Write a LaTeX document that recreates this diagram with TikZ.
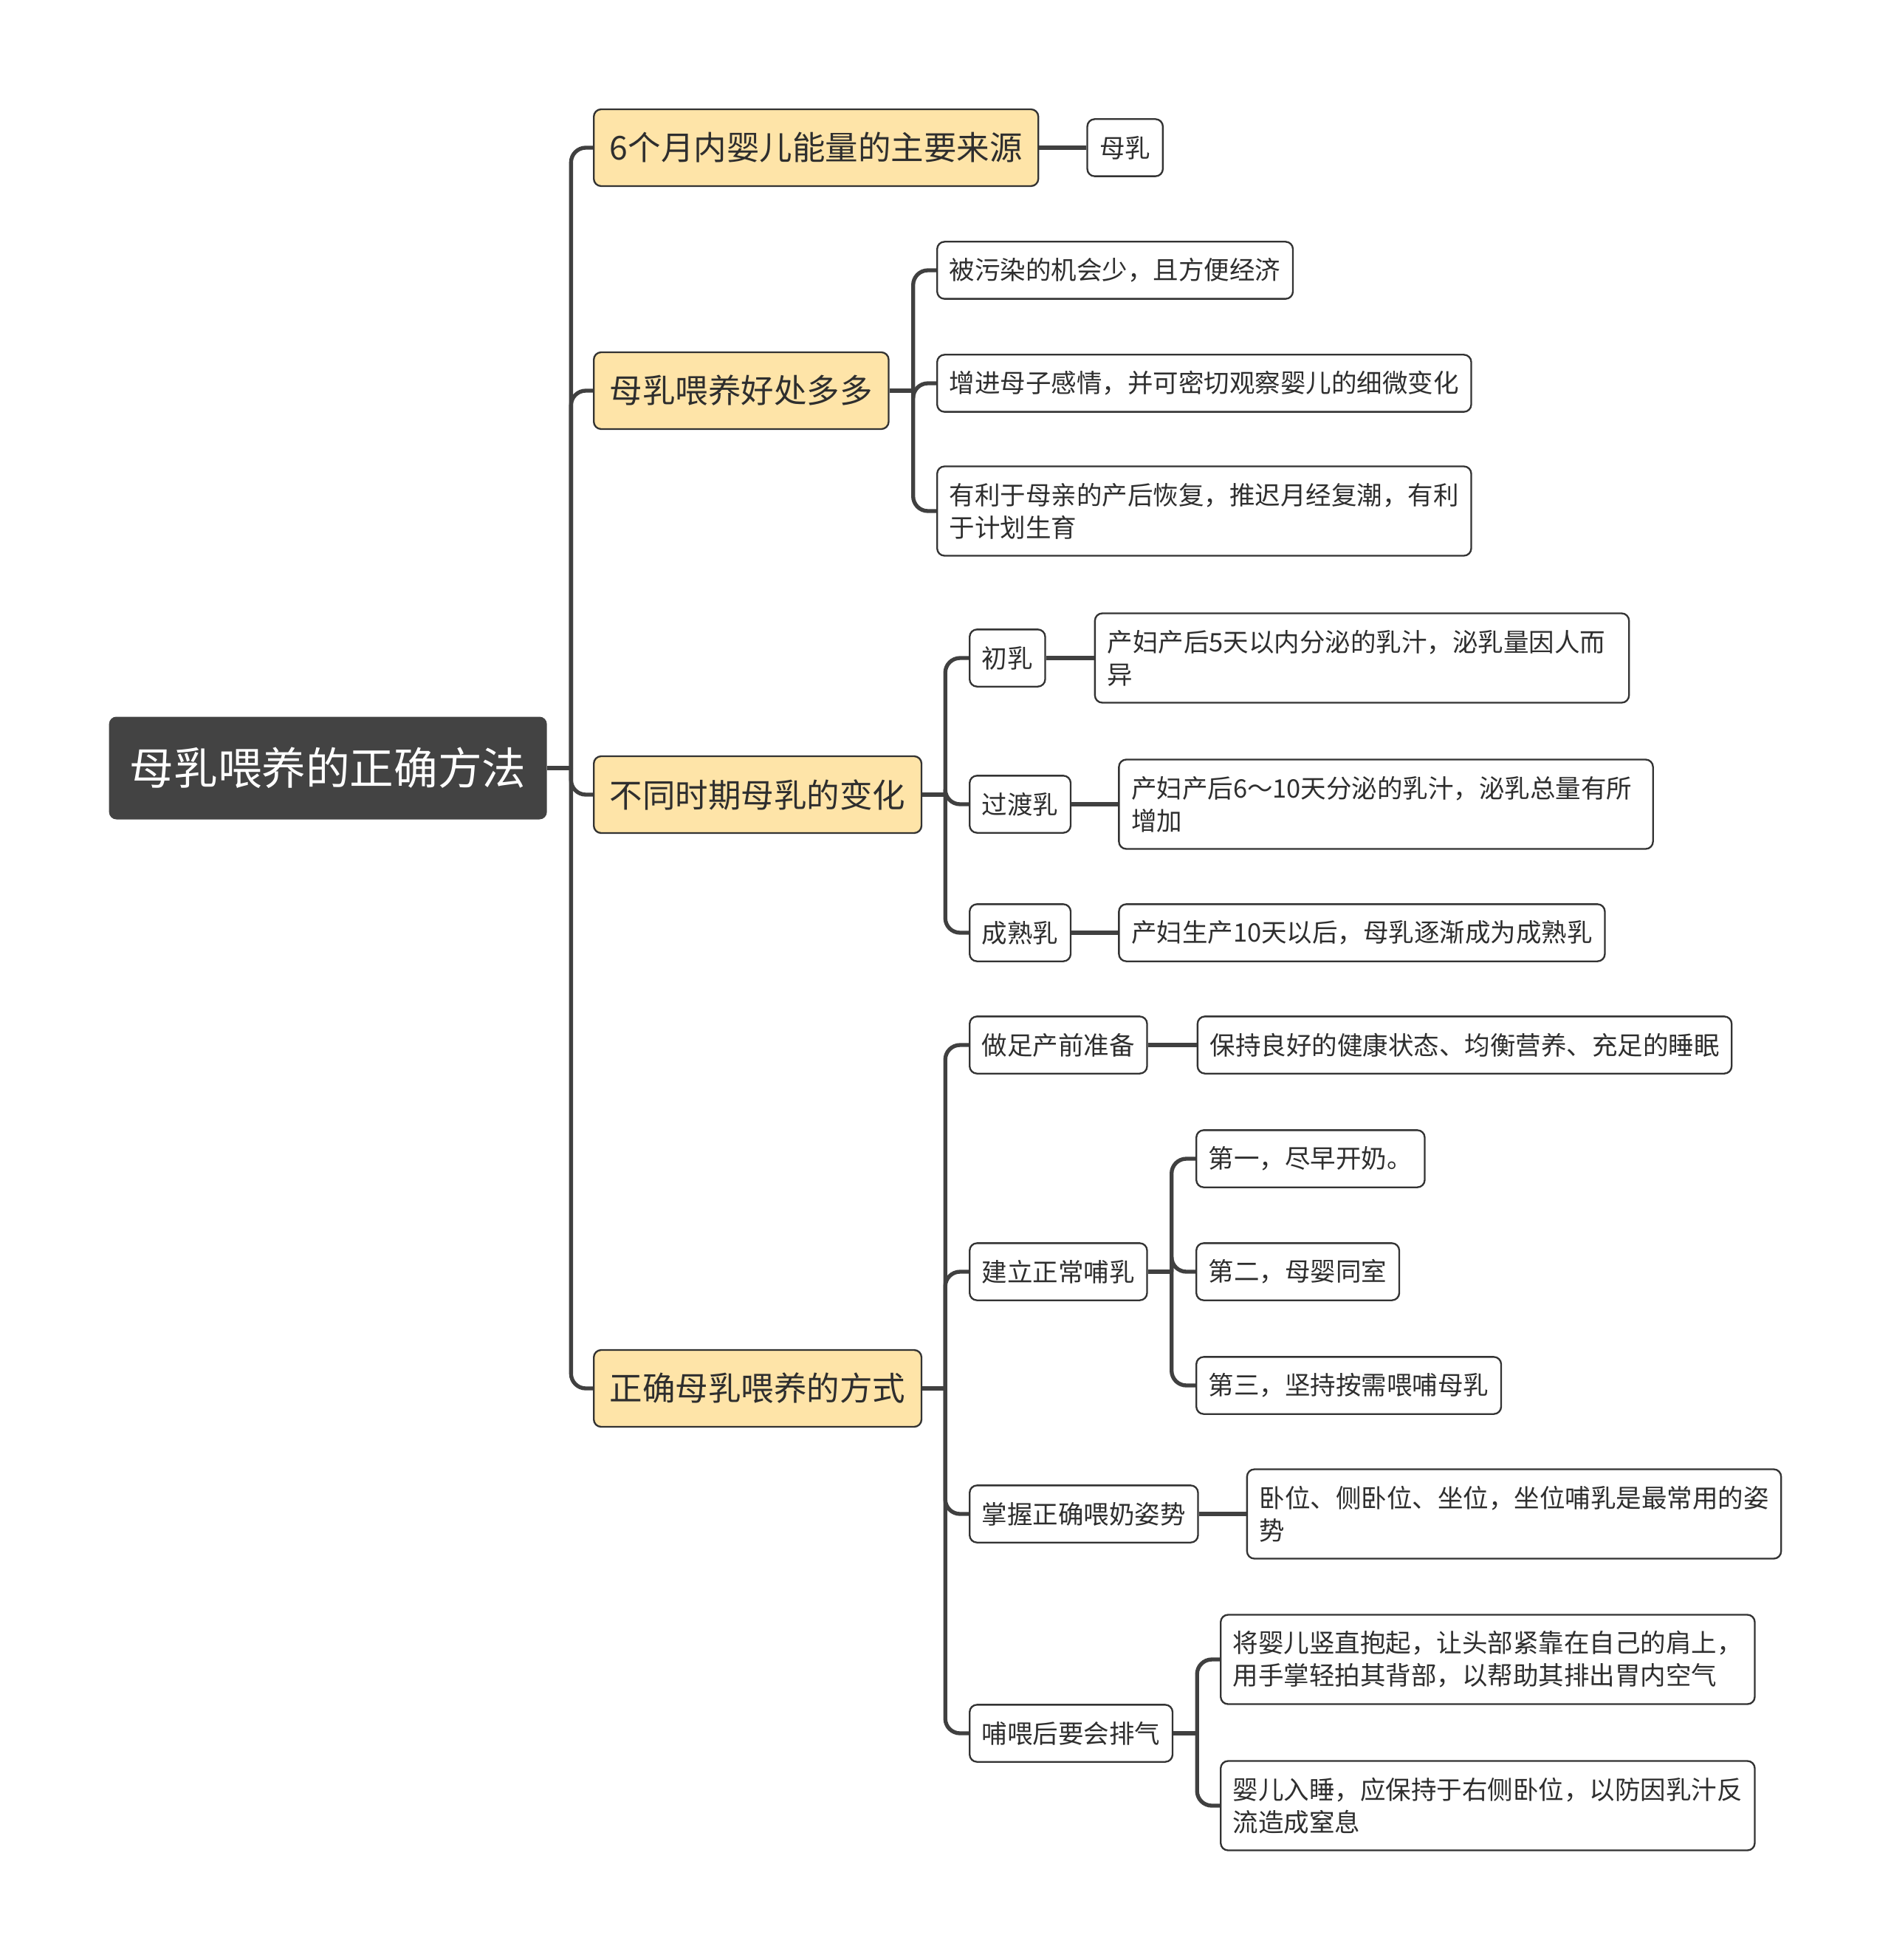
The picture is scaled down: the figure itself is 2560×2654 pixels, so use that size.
\documentclass[tikz,border=0pt]{standalone}
\usepackage{fontspec}
\setmainfont{Noto Sans CJK SC}
\usetikzlibrary{positioning}

\definecolor{rootgray}{HTML}{434343}
\definecolor{topicyellow}{HTML}{FEE4A8}
\definecolor{edgegray}{HTML}{333333}
\definecolor{linegray}{HTML}{404040}
\definecolor{textgray}{HTML}{2E2E2E}

\tikzset{
  rootbox/.style={fill=rootgray, rounded corners=3pt, text=white, anchor=west,
    font=\fontsize{17.9pt}{22pt}\selectfont, inner xsep=8.4pt, minimum height=41.7pt},
  mainbox/.style={draw=edgegray, line width=0.7pt, fill=topicyellow, rounded corners=3pt,
    text=textgray, anchor=west, font=\fontsize{13.35pt}{16pt}\selectfont,
    inner xsep=6.5pt, minimum height=31.2pt},
  subbox/.style={draw=edgegray, line width=0.7pt, fill=white, rounded corners=3pt,
    text=textgray, anchor=west, font=\fontsize{10.35pt}{13.2pt}\selectfont,
    inner xsep=5pt, minimum height=23.2pt},
  longbox/.style={subbox, text width=207pt, align=left, minimum height=36.3pt},
  branch/.style={draw=linegray, line width=1.6pt},
  elbow/.style={branch, rounded corners=6pt},
}

\begin{document}
\begin{tikzpicture}[x=0.3pt, y=-0.3pt]
  \useasboundingbox (0,0) rectangle (2560,2654);

  % root and main topics
  \node[rootbox] (root) at (147,1040) {母乳喂养的正确方法};
  \node[mainbox] (source) at (803,200) {6个月内婴儿能量的主要来源};
  \node[mainbox] (benefit) at (803,529) {母乳喂养好处多多};
  \node[mainbox] (stage) at (803,1076) {不同时期母乳的变化};
  \node[mainbox] (method) at (803,1880) {正确母乳喂养的方式};

  % source
  \node[subbox, right=19.2pt of source] (milk) {母乳};

  % benefit
  \node[subbox] (benefita) at (1268,366) {被污染的机会少，且方便经济};
  \node[subbox] (benefitb) at (1268,519) {增进母子感情，并可密切观察婴儿的细微变化};
  \node[longbox] (benefitc) at (1268,692) {有利于母亲的产后恢复，推迟月经复潮，有利\\于计划生育};

  % stage
  \node[subbox] (colostrum) at (1312,891) {初乳};
  \node[subbox] (transition) at (1312,1089) {过渡乳};
  \node[subbox] (mature) at (1312,1263) {成熟乳};
  \node[longbox, right=19.5pt of colostrum] (colostrumtxt) {产妇产后5天以内分泌的乳汁，泌乳量因人而\\异};
  \node[longbox, right=18.9pt of transition] (transitiontxt) {产妇产后6～10天分泌的乳汁，泌乳总量有所\\增加};
  \node[subbox, right=18.9pt of mature] (maturetxt) {产妇生产10天以后，母乳逐渐成为成熟乳};

  % method
  \node[subbox] (prepare) at (1312,1415) {做足产前准备};
  \node[subbox] (establish) at (1312,1722) {建立正常哺乳};
  \node[subbox] (posture) at (1312,2050) {掌握正确喂奶姿势};
  \node[subbox] (burp) at (1312,2347) {哺喂后要会排气};
  \node[subbox, right=19.8pt of prepare] (preparetxt) {保持良好的健康状态、均衡营养、充足的睡眠};
  \node[subbox] (firststep) at (1619,1569) {第一，尽早开奶。};
  \node[subbox] (secondstep) at (1619,1722) {第二，母婴同室};
  \node[subbox] (thirdstep) at (1619,1876) {第三，坚持按需喂哺母乳};
  \node[longbox, right=19.2pt of posture] (posturetxt) {卧位、侧卧位、坐位，坐位哺乳是最常用的姿\\势};
  \node[longbox] (burpa) at (1652,2247) {将婴儿竖直抱起，让头部紧靠在自己的肩上，\\用手掌轻拍其背部，以帮助其排出胃内空气};
  \node[longbox] (burpb) at (1652,2445) {婴儿入睡，应保持于右侧卧位，以防因乳汁反\\流造成窒息};

  % connectors
  \draw[branch] (root.east) -- ++(32,0) coordinate (trunk);
  \foreach \n in {source,benefit,stage,method}
    \draw[elbow] (trunk) |- (\n.west);

  \draw[branch] (source.east) -- (milk.west);

  \draw[branch] (benefit.east) -- ++(32,0) coordinate (benefitbus);
  \foreach \n in {benefita,benefitb,benefitc}
    \draw[elbow] (benefitbus) |- (\n.west);

  \draw[branch] (stage.east) -- ++(31,0) coordinate (stagebus);
  \foreach \n in {colostrum,transition,mature}
    \draw[elbow] (stagebus) |- (\n.west);
  \draw[branch] (colostrum.east) -- (colostrumtxt.west);
  \draw[branch] (transition.east) -- (transitiontxt.west);
  \draw[branch] (mature.east) -- (maturetxt.west);

  \draw[branch] (method.east) -- ++(31,0) coordinate (methodbus);
  \foreach \n in {prepare,establish,posture,burp}
    \draw[elbow] (methodbus) |- (\n.west);
  \draw[branch] (prepare.east) -- (preparetxt.west);
  \draw[branch] (posture.east) -- (posturetxt.west);

  \draw[branch] (establish.east) -- ++(32,0) coordinate (establishbus);
  \foreach \n in {firststep,secondstep,thirdstep}
    \draw[elbow] (establishbus) |- (\n.west);

  \draw[branch] (burp.east) -- ++(32,0) coordinate (burpbus);
  \foreach \n in {burpa,burpb}
    \draw[elbow] (burpbus) |- (\n.west);
\end{tikzpicture}
\end{document}
